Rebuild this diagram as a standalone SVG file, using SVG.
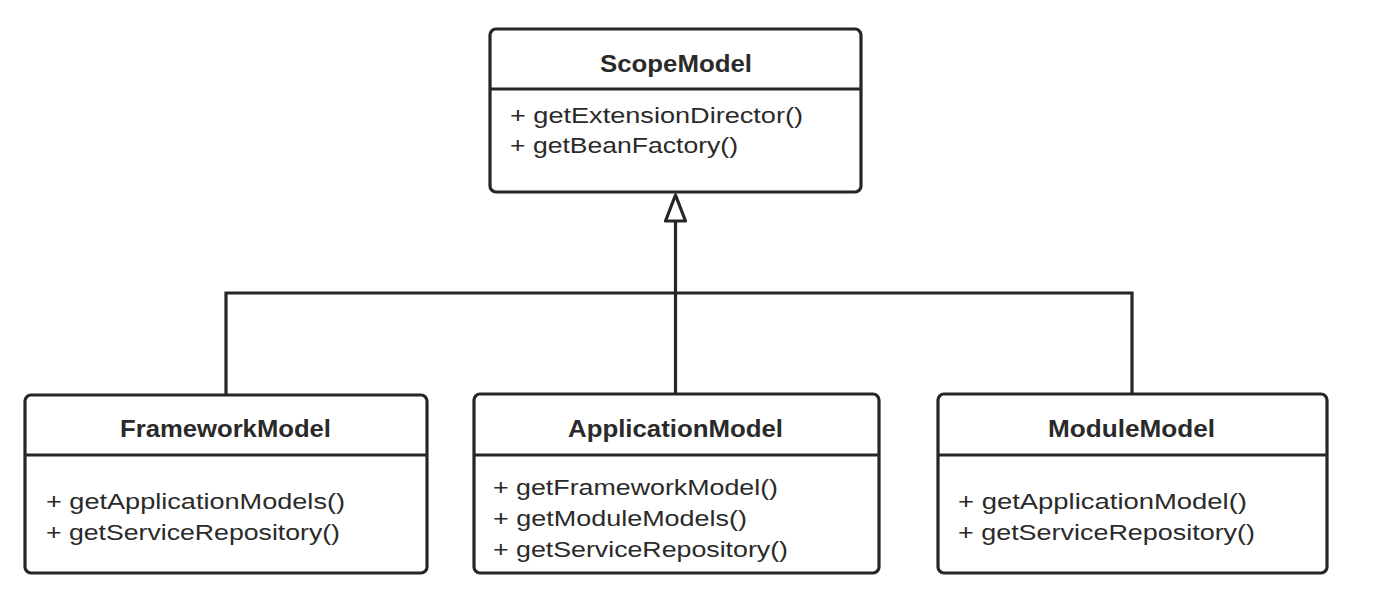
<svg xmlns="http://www.w3.org/2000/svg" width="1378" height="604" viewBox="0 0 1378 604">
<defs>
<style>
.box{fill:#ffffff;stroke:#262626;stroke-width:3.2}
.div{stroke:#262626;stroke-width:3.2;fill:none}
.title{font-family:"Liberation Sans",Arial,sans-serif;font-weight:bold;font-size:24px;fill:#2a2a2a}
.mem{font-family:"Liberation Sans",Arial,sans-serif;font-size:22px;fill:#2a2a2a}
.conn{stroke:#262626;stroke-width:3.2;fill:none}
.head{fill:#ffffff;stroke:#262626;stroke-width:3.2;stroke-linejoin:round}
</style>
</defs>
<rect width="1378" height="604" fill="#ffffff"/>
<g id="connectors">
<polyline class="conn" points="226,395 226,293 1132,293 1132,394"/>
<line class="conn" x1="675.5" y1="394" x2="675.5" y2="222"/>
<path class="head" d="M675.5 195 L665.5 221 L685.5 221 Z"/>
</g>
<g id="ScopeModel">
<rect class="box" x="490" y="29" width="371" height="163" rx="6"/>
<line class="div" x1="490" y1="89" x2="861" y2="89"/>
<text class="title" x="600" y="72" textLength="152" lengthAdjust="spacingAndGlyphs">ScopeModel</text>
<text class="mem" x="510" y="123" textLength="293" lengthAdjust="spacingAndGlyphs">+ getExtensionDirector()</text>
<text class="mem" x="510" y="153" textLength="228" lengthAdjust="spacingAndGlyphs">+ getBeanFactory()</text>
</g>
<g id="FrameworkModel">
<rect class="box" x="25" y="395" width="402" height="178" rx="6"/>
<line class="div" x1="25" y1="455" x2="427" y2="455"/>
<text class="title" x="120" y="437" textLength="211" lengthAdjust="spacingAndGlyphs">FrameworkModel</text>
<text class="mem" x="46" y="509" textLength="299" lengthAdjust="spacingAndGlyphs">+ getApplicationModels()</text>
<text class="mem" x="46" y="540" textLength="294" lengthAdjust="spacingAndGlyphs">+ getServiceRepository()</text>
</g>
<g id="ApplicationModel">
<rect class="box" x="474" y="394" width="405" height="179" rx="6"/>
<line class="div" x1="474" y1="455" x2="879" y2="455"/>
<text class="title" x="568" y="437" textLength="215" lengthAdjust="spacingAndGlyphs">ApplicationModel</text>
<text class="mem" x="493" y="495" textLength="285" lengthAdjust="spacingAndGlyphs">+ getFrameworkModel()</text>
<text class="mem" x="493" y="526" textLength="254" lengthAdjust="spacingAndGlyphs">+ getModuleModels()</text>
<text class="mem" x="493" y="557" textLength="295" lengthAdjust="spacingAndGlyphs">+ getServiceRepository()</text>
</g>
<g id="ModuleModel">
<rect class="box" x="938" y="394" width="389" height="179" rx="6"/>
<line class="div" x1="938" y1="455" x2="1327" y2="455"/>
<text class="title" x="1048" y="437" textLength="167" lengthAdjust="spacingAndGlyphs">ModuleModel</text>
<text class="mem" x="958" y="509" textLength="289" lengthAdjust="spacingAndGlyphs">+ getApplicationModel()</text>
<text class="mem" x="958" y="540" textLength="297" lengthAdjust="spacingAndGlyphs">+ getServiceRepository()</text>
</g>
</svg>
